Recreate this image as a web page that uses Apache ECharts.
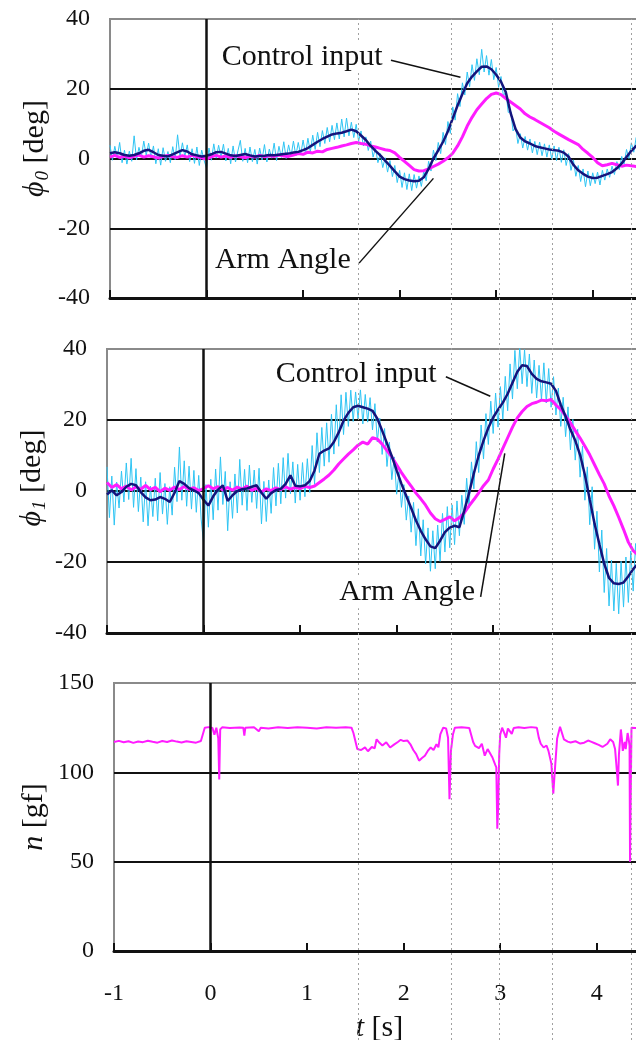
<!DOCTYPE html>
<html>
<head>
<meta charset="utf-8">
<script src="https://cdn.jsdelivr.net/npm/echarts@6/dist/echarts.min.js"></script>
<style>
html, body { margin: 0; padding: 0; background: #fff; }
#chart { width: 636px; height: 1040px; }
</style>
</head>
<body>
<div id="chart"></div>
<script>
// time grid of the recordings [s]
var tStart = -1;
var coarseStep = 0.05;   // filtered control input and arm angle
var fineStep = 0.025;    // raw control input

// dotted event markers [s]
var eventTimes = [1.53, 2.49, 2.99, 3.54, 4.36];

// phi0 panel [deg]
var phi0Raw = [3.8,-0.5,3.5,0.2,4.6,-1.2,2.4,-1.6,2.1,-0.8,
	6.5,-0.4,3.2,0.5,5.0,0.9,4.4,0.2,3.6,-1.5,
	2.8,-1.9,3.1,-0.8,2.0,-1.2,3.4,-0.3,6.8,0.4,
	4.5,0.6,3.9,-0.9,2.8,-1.4,3.3,-2.0,2.4,-0.6,
	-2.8,3.0,-0.5,4.2,0.1,3.8,0.3,4.1,-0.7,2.9,
	-1.5,3.6,-1.0,2.2,5.2,-0.8,2.9,-1.2,3.3,-0.9,
	2.6,-1.6,3.0,-0.4,4.0,-1.0,2.7,0.1,4.4,-0.6,
	3.5,0.3,4.8,0.0,3.9,0.6,5.0,0.8,4.6,1.0,
	5.3,1.3,5.8,1.9,6.7,2.6,7.5,3.4,8.0,4.3,
	8.9,4.8,9.5,5.4,10.2,5.6,11.3,6.2,11.6,6.5,
	10.4,6.0,9.8,4.9,7.9,3.6,6.2,2.3,5.0,0.4,
	3.1,-1.2,1.4,-2.6,0.2,-3.9,-0.6,-5.2,-2.0,-6.9,
	-3.4,-8.3,-4.1,-8.9,-4.4,-9.2,-4.6,-8.5,-5.0,-8.0,
	-3.6,-6.4,-0.8,-3.6,2.4,-0.6,4.6,1.4,7.5,4.0,
	10.6,7.2,14.8,11.0,18.6,14.9,21.7,18.2,24.8,20.6,
	26.9,22.4,28.6,24.0,31.3,24.8,29.5,23.9,28.4,22.6,
	26.1,20.4,23.5,17.8,19.4,13.2,13.6,7.9,9.2,4.3,
	7.1,3.0,6.3,2.4,5.6,1.6,4.9,1.1,4.7,0.8,
	4.2,0.4,3.9,-0.2,3.6,-0.6,3.2,-1.1,2.5,-2.0,
	1.4,-3.4,-0.4,-5.1,-2.0,-6.6,-3.0,-8.1,-3.6,-7.8,
	-4.1,-7.2,-3.9,-7.6,-3.4,-6.2,-3.0,-5.4,-2.2,-4.6,
	-0.9,-3.2,0.6,-1.6,2.6,0.0,4.5,1.8,6.0,3.2,
	6.4];
var phi0Input = [1.5,1.8,1.5,1.0,0.8,1.0,1.5,2.2,2.5,1.8,
	1.0,0.8,0.6,1.2,1.8,2.4,2.0,1.2,0.9,0.6,
	0.8,1.2,1.8,1.9,1.4,0.9,0.7,1.0,1.3,0.9,
	0.6,0.7,0.8,1.0,0.9,1.1,1.3,1.4,1.7,1.9,
	2.4,3.0,3.9,4.8,5.6,6.3,6.9,7.2,7.4,7.8,
	8.3,7.8,6.6,5.3,3.6,2.2,0.9,-0.6,-2.1,-3.7,
	-5.2,-5.9,-6.3,-6.5,-6.4,-5.4,-3.0,0.0,2.3,4.8,
	7.8,11.5,15.2,18.5,21.6,23.5,25.0,26.3,26.4,25.6,
	24.0,22.0,19.0,13.0,8.5,6.0,4.9,4.3,3.6,3.2,
	2.9,2.6,2.4,2.2,1.7,0.5,-1.8,-3.4,-4.4,-5.2,
	-5.6,-5.5,-5.0,-4.5,-3.9,-2.8,-1.4,0.4,2.2,3.6,
	4.6];
var phi0Arm = [0.4,0.9,0.3,0.7,0.2,0.6,1.0,0.4,0.8,0.5,
	0.1,0.6,0.9,0.5,0.3,0.8,0.4,0.9,0.5,0.2,
	-0.2,0.5,0.9,0.4,0.7,0.3,0.8,0.5,0.2,0.7,
	0.4,0.9,0.5,0.8,0.6,1.0,0.7,0.6,1.0,1.4,
	1.2,1.8,1.6,2.1,1.9,2.6,2.9,3.2,3.6,3.9,
	4.3,4.6,4.3,4.1,3.6,3.3,2.9,2.5,2.3,1.6,
	0.3,-0.8,-2.0,-3.2,-3.6,-3.5,-3.0,-2.3,-1.6,-0.8,
	0.2,1.5,3.6,6.2,9.3,11.8,14.0,15.6,17.2,18.4,
	18.8,18.3,17.2,16.2,15.2,14.2,12.8,11.9,11.2,10.4,
	9.6,8.8,7.8,7.0,6.2,5.4,4.7,4.0,2.6,1.5,
	0.3,-1.2,-2.1,-1.8,-1.4,-1.8,-2.2,-1.9,-2.1,-2.3,
	-2.0];

// phi1 panel [deg]
var phi1Raw = [6.8,-7.5,4.2,-9.6,2.5,-4.8,5.6,-3.1,7.9,-2.4,
	9.2,-4.6,6.3,-5.8,3.9,-8.7,2.6,-9.8,1.4,-7.2,
	3.6,-8.4,5.2,-6.5,2.1,-9.4,1.2,-6.8,6.7,-3.0,
	12.4,-2.6,8.5,-4.3,7.0,-5.1,5.8,-6.0,4.4,-7.9,
	-14.5,1.8,-10.2,3.3,-8.1,6.2,-5.4,9.6,-3.8,5.5,
	-11.2,2.6,-7.7,4.8,-6.2,8.9,-4.0,6.1,-5.5,7.3,
	-3.2,5.9,-4.9,6.4,-9.3,2.7,-8.6,3.1,-6.3,6.6,
	-4.2,7.8,-3.6,9.4,-2.0,10.6,-0.8,8.2,-3.4,7.5,
	-2.6,8.0,-1.6,9.1,-0.4,12.8,1.9,16.4,5.2,17.9,
	7.0,19.2,8.1,21.6,10.4,24.3,12.6,27.1,15.9,27.8,
	18.2,28.4,19.6,27.9,20.3,28.6,18.9,27.2,19.4,26.3,
	17.2,24.6,13.8,20.5,10.3,17.6,6.9,13.8,3.2,9.6,
	-0.9,5.4,-4.6,1.8,-8.2,-1.4,-11.6,-3.2,-15.4,-5.0,
	-18.3,-8.1,-20.5,-10.4,-22.6,-11.2,-21.9,-9.6,-19.8,-6.3,
	-17.2,-4.4,-16.0,-3.9,-15.1,-2.8,-12.6,-1.2,-9.4,3.6,
	-4.8,8.2,0.6,13.9,5.2,18.6,9.0,21.8,13.1,25.3,
	16.2,27.6,18.0,29.4,20.2,32.3,22.6,35.8,25.9,39.6,
	28.8,40.5,30.2,39.8,29.4,38.6,27.5,36.9,26.2,35.4,
	25.7,36.1,24.8,34.5,23.6,32.2,21.4,29.0,18.2,26.4,
	15.3,23.7,11.6,20.2,8.7,17.4,3.9,12.6,-2.6,6.8,
	-9.5,1.2,-16.4,-5.7,-22.8,-11.0,-28.6,-16.2,-32.4,-19.5,
	-33.8,-20.4,-34.6,-19.8,-32.7,-18.6,-31.4,-16.9,-28.2,-14.8,
	-26.5];
var phi1Input = [-1.0,0.2,-1.2,-0.3,1.2,2.0,1.6,-0.3,-1.8,-2.6,
	-2.4,-1.7,-2.2,-3.1,-0.5,2.8,2.0,0.8,0.2,-0.6,
	-2.5,-4.1,-1.5,0.4,1.6,-2.8,-1.2,0.0,0.5,0.7,
	1.2,1.6,-0.5,-2.2,-0.6,0.3,0.6,2.0,4.4,1.5,
	1.3,1.6,2.8,5.8,10.5,11.4,12.0,13.8,16.5,19.8,
	22.0,23.6,24.0,23.6,23.2,22.6,20.4,17.0,13.4,9.8,
	5.8,2.0,-1.4,-4.8,-8.3,-11.2,-13.6,-15.6,-16.1,-14.0,
	-11.6,-10.3,-9.8,-10.2,-5.6,-0.6,5.0,10.0,14.2,17.8,
	20.7,22.9,24.9,27.4,30.5,33.6,35.4,35.2,33.0,31.6,
	30.9,30.6,30.2,28.2,24.3,21.0,17.3,14.2,10.2,4.5,
	-2.4,-9.2,-15.0,-20.5,-24.5,-26.0,-26.2,-25.8,-24.0,-22.0,
	-20.5];
var phi1Arm = [2.4,1.0,1.8,0.6,1.4,0.3,1.2,0.5,1.6,0.4,
	1.0,-0.2,0.8,0.2,1.1,0.4,1.3,0.5,0.9,0.1,
	0.7,1.5,0.6,1.2,0.3,1.0,0.2,1.1,0.5,1.4,
	0.2,0.8,-0.3,0.6,0.1,0.9,0.4,1.2,0.5,1.0,
	0.7,1.3,1.0,1.4,2.4,3.4,4.5,5.9,7.6,9.0,
	10.4,11.6,12.9,13.8,13.2,15.0,14.6,13.2,11.4,9.6,
	7.4,5.2,3.2,1.4,-0.6,-2.2,-4.0,-6.2,-7.8,-8.6,
	-8.0,-7.3,-8.4,-7.5,-6.2,-4.2,-2.4,-0.5,1.5,3.1,
	6.2,9.0,12.0,15.0,18.0,20.6,22.4,23.8,24.6,25.0,
	25.6,25.4,25.8,24.2,23.0,21.2,19.2,17.0,14.9,12.6,
	10.2,7.4,4.6,2.0,-1.4,-4.2,-7.4,-10.8,-14.4,-16.8,
	-18.0];

// thrust n [gf]
var forceTime = [-1.00,-0.95,-0.90,-0.85,-0.80,-0.75,-0.70,-0.65,-0.60,-0.55,-0.50,-0.45,-0.40,-0.35,-0.30,-0.25,-0.20,-0.15,-0.10,
	-0.08,-0.06,-0.02,0.02,0.04,0.06,0.08,0.09,0.10,0.12,
	0.20,0.30,0.34,0.35,0.36,0.45,0.50,0.52,0.60,0.70,
	0.80,0.90,1.00,1.10,1.20,1.30,1.40,1.46,1.48,1.52,
	1.56,1.60,1.63,1.67,1.70,1.72,1.75,1.78,1.82,1.86,
	1.90,1.94,1.97,2.00,2.04,2.07,2.10,2.13,2.16,2.19,
	2.22,2.25,2.28,2.31,2.34,2.36,2.38,2.41,2.44,2.46,
	2.475,2.49,2.51,2.53,2.60,2.68,2.70,2.72,2.74,2.78,
	2.81,2.84,2.87,2.89,2.92,2.95,2.96,2.97,2.98,2.99,
	3.00,3.02,3.05,3.06,3.08,3.10,3.12,3.14,3.19,3.25,
	3.32,3.38,3.40,3.42,3.45,3.48,3.50,3.53,3.55,3.57,
	3.59,3.62,3.64,3.66,3.70,3.73,3.78,3.83,3.87,3.91,
	3.94,3.98,4.02,4.06,4.08,4.11,4.14,4.17,4.19,4.21,
	4.22,4.23,4.25,4.26,4.27,4.29,4.30,4.32,4.33,4.34,
	4.345,4.36,4.40,4.45,4.50];
var forceValue = [117.0,117.6,116.8,117.4,116.5,117.3,116.9,117.7,117.1,116.6,117.5,117.0,117.8,117.2,116.7,117.4,117.0,116.6,117.5,
	118.5,125.0,125.3,124.8,121.0,125.0,119.0,96.0,124.0,125.2,
	124.8,125.1,124.9,120.5,124.9,125.2,123.0,125.0,124.6,125.2,
	124.8,125.3,125.0,124.6,125.2,124.9,125.3,125.0,122.0,113.0,
	112.5,114.0,111.8,114.2,113.5,118.5,116.5,115.0,116.8,113.9,
	115.5,117.0,118.2,117.5,117.8,115.7,112.5,110.2,106.5,108.0,
	109.3,112.0,113.9,112.5,115.7,114.0,121.3,125.0,124.5,119.4,
	85.0,112.0,121.0,125.0,125.2,124.8,125.0,117.0,114.8,113.5,
	116.0,109.3,113.0,112.0,108.3,104.0,102.8,68.5,82.0,110.0,
	121.0,125.0,121.0,119.4,124.5,125.0,121.5,124.8,125.2,124.8,
	125.3,124.9,119.4,116.0,113.9,115.0,112.0,105.0,88.0,104.0,
	119.0,125.5,124.5,118.5,117.2,116.7,117.4,116.1,116.6,117.8,
	117.2,116.3,115.4,114.2,113.9,116.0,118.5,117.0,113.0,100.0,
	92.6,110.0,124.0,119.0,112.0,117.0,113.0,122.0,119.0,115.0,
	50.0,125.0,124.8,125.2,124.9];

// axis ticks
var angleTicks = { min: -40, max: 40, interval: 20 };
var forceTicks = { min: 0, max: 150, interval: 50 };
var timeTicks = { min: -1, max: 4.5, interval: 1 };

var fontFamily = "'Liberation Serif', 'Times New Roman', serif";
var ink = '#111';
var rawColor = '#2ec4f3';
var inputColor = '#14147c';
var armColor = '#ff1cff';

function zip(start, step, values) {
	return values.map(function(v, i) {
		return [ +(start + i * step).toFixed(3), v ];
	});
}

function pairs(xs, ys) {
	return xs.map(function(x, i) {
		return [ x, ys[i] ];
	});
}

function extend(target) {
	for (var i = 1; i < arguments.length; i++) {
		var src = arguments[i];
		for (var k in src) target[k] = src[k];
	}
	return target;
}

/*
 * x axis of one panel (time)
 */
function timeAxis(idx, withLabels) {
	return {
		type : 'value',
		gridIndex : idx,
		min : timeTicks.min,
		max : timeTicks.max,
		interval : timeTicks.interval,
		axisLine : { onZero : false, lineStyle : { color : ink, width : 3 } },
		axisTick : { inside : true, length : 8, lineStyle : { color : ink, width : 2 } },
		axisLabel : { show : withLabels, showMaxLabel : false, fontSize : 24,
			fontFamily : fontFamily, color : ink, margin : 31 },
		splitLine : { show : false },
		name : withLabels ? '{i|t} [s]' : '',
		nameLocation : 'middle',
		nameGap : 62,
		nameTextStyle : {
			fontSize : 30, fontFamily : fontFamily, color : ink,
			rich : { i : { fontSize : 30, fontFamily : fontFamily, fontStyle : 'italic', color : ink } }
		}
	};
}

/*
 * y axis of one panel
 */
function valueAxis(idx, ticks, name, gap, pad) {
	return {
		type : 'value',
		gridIndex : idx,
		min : ticks.min,
		max : ticks.max,
		interval : ticks.interval,
		axisLine : { show : false },
		axisTick : { show : false },
		axisLabel : { fontSize : 24, fontFamily : fontFamily, color : ink, margin : 20 },
		splitLine : { showMinLine : false, showMaxLine : false,
			lineStyle : { color : ink, width : 2 } },
		name : name,
		nameLocation : 'middle',
		nameRotate : 90,
		nameGap : gap,
		nameMoveOverlap : false,
		nameTextStyle : {
			fontSize : 30, fontFamily : fontFamily, color : ink, padding : pad,
			rich : {
				i : { fontSize : 30, fontFamily : fontFamily, fontStyle : 'italic', color : ink },
				s : { fontSize : 19, fontFamily : fontFamily, fontStyle : 'italic', color : ink,
					verticalAlign : 'bottom', padding : [ 14, 0, 0, 1 ] }
			}
		}
	};
}

// vertical line at t = 0
var zeroLine = {
	silent : true,
	symbol : [ 'none', 'none' ],
	label : { show : false },
	lineStyle : { color : ink, width : 2.5, type : 'solid' },
	data : [ { xAxis : 0 } ]
};

function notes(labels, leaders) {
	return {
		markPoint : {
			silent : true,
			symbol : 'circle',
			symbolSize : 1,
			itemStyle : { color : 'rgba(0,0,0,0)' },
			label : {
				show : true, position : 'inside', color : ink, fontSize : 30,
				fontFamily : fontFamily, backgroundColor : '#fff', padding : [ 1, 3 ],
				formatter : function(p) { return p.name; }
			},
			data : labels
		},
		markLine : {
			silent : true,
			symbol : [ 'none', 'none' ],
			label : { show : false },
			lineStyle : { color : ink, width : 1.5, type : 'solid' },
			data : leaders
		}
	};
}

function anglePanel(idx, raw, input, arm, note) {
	var base = { type : 'line', xAxisIndex : idx, yAxisIndex : idx,
		symbol : 'none', silent : true, clip : true };
	return [ extend({}, base, {
		data : zip(tStart, fineStep, raw), z : 2,
		lineStyle : { color : rawColor, width : 1 },
		markLine : zeroLine
	}), extend({}, base, {
		data : zip(tStart, coarseStep, arm), z : 3,
		lineStyle : { color : armColor, width : 3 }
	}), extend({}, base, {
		data : zip(tStart, coarseStep, input), z : 4,
		lineStyle : { color : inputColor, width : 2.5 }
	}, note) ];
}

var myChart = echarts.init(document.getElementById('chart'));

var series = [ {
	// dotted event lines across all panels
	type : 'line', xAxisIndex : 3, yAxisIndex : 3, z : 1, silent : true,
	symbol : 'none', data : [ [ -1, 0.5 ], [ 4.5, 0.5 ] ],
	lineStyle : { opacity : 0 },
	markLine : {
		silent : true, symbol : [ 'none', 'none' ], label : { show : false },
		lineStyle : { color : '#a0a0a0', width : 1, type : [ 2, 3 ] },
		data : eventTimes.map(function(t) { return { xAxis : t }; })
	}
} ];

series = series.concat(anglePanel(0, phi0Raw, phi0Input, phi0Arm, notes([
	{ name : 'Control input', coord : [ 0.99, 29.1 ] },
	{ name : 'Arm Angle', coord : [ 0.79, -29.1 ] }
], [
	[ { coord : [ 1.91, 28.2 ] }, { coord : [ 2.63, 23.3 ] } ],
	[ { coord : [ 1.58, -30.0 ] }, { coord : [ 2.35, -5.7 ] } ]
])));

series = series.concat(anglePanel(1, phi1Raw, phi1Input, phi1Arm, notes([
	{ name : 'Control input', coord : [ 1.58, 33.0 ] },
	{ name : 'Arm Angle', coord : [ 2.11, -28.5 ] }
], [
	[ { coord : [ 2.51, 32.2 ] }, { coord : [ 2.97, 26.7 ] } ],
	[ { coord : [ 2.87, -29.8 ] }, { coord : [ 3.12, 10.6 ] } ]
])));

series.push({
	type : 'line', xAxisIndex : 2, yAxisIndex : 2, z : 3, silent : true, symbol : 'none',
	data : pairs(forceTime, forceValue),
	lineStyle : { color : armColor, width : 2 },
	markLine : zeroLine
});

var panelGrid = { show : true, borderColor : '#8a8a8a', borderWidth : 2,
	outerBoundsMode : 'none', containLabel : false };

var option = {
	animation : false,
	backgroundColor : '#fff',
	grid : [
		extend({ left : 110, top : 19, width : 531, height : 279 }, panelGrid),
		extend({ left : 107, top : 349, width : 531, height : 284 }, panelGrid),
		extend({ left : 114, top : 683, width : 531, height : 268 }, panelGrid),
		{ left : 114, top : 19, width : 531, height : 1021, outerBoundsMode : 'none' }
	],
	xAxis : [ timeAxis(0, false), timeAxis(1, false), timeAxis(2, true),
		{ type : 'value', gridIndex : 3, show : false, min : timeTicks.min, max : timeTicks.max } ],
	yAxis : [
		valueAxis(0, angleTicks, '{i|ϕ}{s|0} [deg]', 58, [ 0, 0, 0, 20 ]),
		valueAxis(1, angleTicks, '{i|ϕ}{s|1} [deg]', 58, [ 0, 0, 0, 26 ]),
		valueAxis(2, forceTicks, '{i|n} [gf]', 65, [ 0, 0, 0, 0 ]),
		{ type : 'value', gridIndex : 3, show : false, min : 0, max : 1 }
	],
	series : series
};

myChart.setOption(option);
</script>
</body>
</html>
